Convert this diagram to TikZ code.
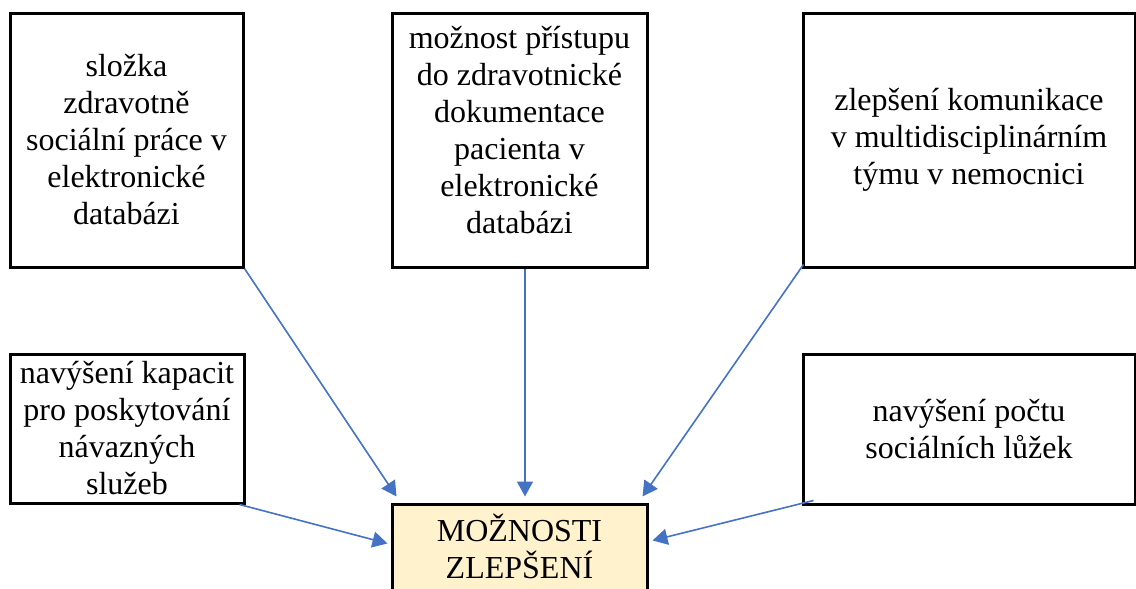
\documentclass[tikz,border=0pt]{standalone}
\usepackage{fontspec}
\setmainfont{Liberation Serif}
\usetikzlibrary{arrows.meta}
\definecolor{arrblue}{HTML}{4472C4}
\definecolor{goalfill}{HTML}{FFF2CC}
\tikzset{
  box/.style={draw=black, line width=1.5pt, inner sep=0pt, align=center,
    font=\fontsize{16pt}{18.5pt}\selectfont},
  conn/.style={draw=arrblue, line width=0.8pt, -{Triangle[length=7.5pt,width=8pt]}}
}
\begin{document}
\begin{tikzpicture}[x=0.5pt, y=-0.5pt]
\clip (0,0) rectangle (1136,589);
\node[box, minimum width=116.5pt, minimum height=127pt] (tl) at (126.5,140)
  {složka\\zdravotně\\sociální práce v\\elektronické\\databázi};
\node[box, minimum width=127.5pt, minimum height=127pt] (tm) at (519.5,140)
  {možnost přístupu\\do zdravotnické\\dokumentace\\pacienta v\\elektronické\\databázi\rule[-10pt]{0pt}{10pt}};
\node[box, minimum width=166pt, minimum height=127pt] (tr) at (969,140)
  {zlepšení komunikace\\v multidisciplinárním\\týmu v nemocnici};
\node[box, minimum width=117pt, minimum height=74.5pt] (bl) at (127,428.5)
  {navýšení kapacit\\pro poskytování\\návazných\\služeb};
\node[box, minimum width=166pt, minimum height=75pt] (br) at (969,429)
  {navýšení počtu\\sociálních lůžek};
\node[box, fill=goalfill, minimum width=127.5pt, minimum height=64pt] (goal) at (519.5,568)
  {MOŽNOSTI\\ZLEPŠENÍ\rule[-22pt]{0pt}{22pt}};
\draw[conn] (tl.south east) -- ([xshift=3pt,yshift=3pt]goal.north west);
\draw[conn] ([xshift=2.75pt]tm.south) -- ([xshift=2.75pt,yshift=3pt]goal.north);
\draw[conn] ([xshift=1pt,yshift=2pt]tr.south west) -- ([xshift=-3pt,yshift=3pt]goal.north east);
\draw[conn] ([xshift=-3pt]bl.south east) -- ([xshift=-1.5pt,yshift=-20.5pt]goal.north west);
\draw[conn] ([xshift=6pt,yshift=2.5pt]br.south west) -- ([xshift=2pt,yshift=-19pt]goal.north east);
\end{tikzpicture}
\end{document}
